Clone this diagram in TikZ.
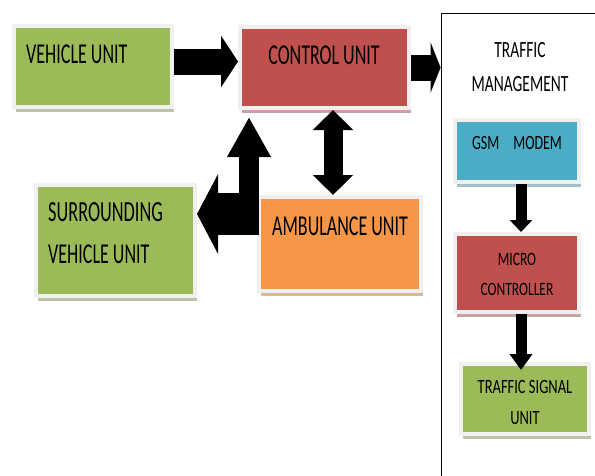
\documentclass[tikz,border=0pt]{standalone}
\usepackage{fontspec}
\setmainfont{Carlito}
\usetikzlibrary{arrows.meta,shadows}
\definecolor{cgreen}{HTML}{9BBB59}
\definecolor{cred}{HTML}{C0504D}
\definecolor{corange}{HTML}{F79646}
\definecolor{cblue}{HTML}{4BACC6}
\newcommand\stx[3][1.6]{\scalebox{1}[#1]{\fontsize{#2}{#2}\selectfont #3}}
\tikzset{
  unitbox/.style={draw=black!6, line width=4pt, fill=#1, inner sep=0pt,
    drop shadow={shadow xshift=2pt, shadow yshift=-5pt, fill=#1!50!gray, opacity=.6}},
  lbl/.style={inner sep=0pt, text=black},
  blk/.style={draw=black},
}
\begin{document}
\begin{tikzpicture}[x=1pt,y=-1pt]
\useasboundingbox (0,0) rectangle (595,475);
% traffic management frame
\node[draw=black, line width=0.8pt, minimum width=170pt, minimum height=480pt, inner sep=0pt] (tm) at (526,253) {};
% boxes
\node[unitbox=cgreen, minimum width=158pt, minimum height=81pt] (veh) at (93,66.5) {};
\node[unitbox=cred, minimum width=169pt, minimum height=81pt] (ctrl) at (324.5,67.5) {};
\node[unitbox=cgreen, minimum width=159pt, minimum height=111pt] (sur) at (115.5,240.5) {};
\node[unitbox=corange, minimum width=162pt, minimum height=94pt] (amb) at (340,244) {};
\node[unitbox=cblue, minimum width=124pt, minimum height=62pt] (gsm) at (517,151) {};
\node[unitbox=cred, minimum width=124pt, minimum height=78pt] (mic) at (517,273) {};
\node[unitbox=cgreen, minimum width=128pt, minimum height=70pt] (tsu) at (525,399) {};
% texts
\node[lbl, anchor=west] (tveh) at (26,54) {\stx{18}{VEHICLE UNIT}};
\node[lbl] (tctrl) at (324,55) {\stx{18}{CONTROL UNIT}};
\node[lbl, anchor=west] (tsur1) at (48,212) {\stx{18.3}{SURROUNDING}};
\node[lbl, anchor=west] (tsur2) at (48,254) {\stx{18}{VEHICLE UNIT}};
\node[lbl] (tamb) at (340,226) {\stx{18}{AMBULANCE UNIT}};
\node[lbl] (ttm1) at (520,50) {\stx[1.5]{15.5}{TRAFFIC}};
\node[lbl] (ttm2) at (520,84) {\stx[1.5]{15.5}{MANAGEMENT}};
\node[lbl] (tgsm) at (517,143) {\stx[1.45]{14}{GSM\hspace{1em}MODEM}};
\node[lbl] (tmic1) at (517,259) {\stx[1.4]{13.5}{MICRO}};
\node[lbl] (tmic2) at (517,289) {\stx[1.4]{13.5}{CONTROLLER}};
\node[lbl] (ttsu1) at (525,387) {\stx[1.4]{14.5}{TRAFFIC SIGNAL}};
\node[lbl] (ttsu2) at (525,418) {\stx[1.4]{14.5}{UNIT}};
% connectors
\coordinate (a1) at ([yshift=5pt]veh.east);
\draw[blk, line width=26pt, -{Triangle[width=51pt,length=17pt]}] (a1) -- (a1 -| ctrl.west);
\draw[blk, line width=26pt, -{Triangle[width=50pt,length=10pt]}] (ctrl.east) -- (ctrl.east -| tm.west);
\coordinate (a3) at (333,0);
\draw[blk, line width=19pt, {Triangle[width=39pt,length=20pt]}-{Triangle[width=39pt,length=20pt]}] (a3 |- ctrl.south) -- (a3 |- amb.north);
\coordinate (lb) at (249,235);
\draw[blk, line width=20pt, -{Triangle[width=41pt,length=40pt]}, shorten >=7pt] (lb) -- (lb |- ctrl.south);
\coordinate (lh) at (259,214);
\draw[blk, line width=42pt, -{Triangle[width=79pt,length=21pt]}] (lh) -- (lh -| sur.east);
\coordinate (a5) at (521,0);
\draw[blk, line width=11pt, -{Triangle[width=22pt,length=12pt]}] (a5 |- gsm.south) -- (a5 |- mic.north);
\draw[blk, line width=11pt, -{Triangle[width=22pt,length=16pt]}, shorten >=-8pt] (a5 |- mic.south) -- (a5 |- tsu.north);
\end{tikzpicture}
\end{document}
